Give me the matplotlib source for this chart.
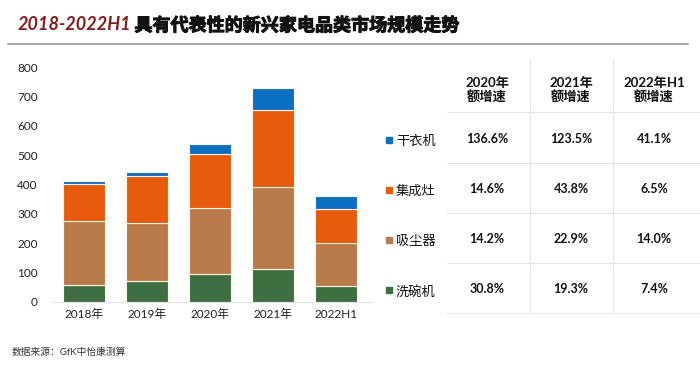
import numpy as np
import matplotlib.pyplot as plt
import matplotlib.patheffects as pe
from matplotlib.lines import Line2D
from matplotlib.patches import Rectangle

plt.rcParams['font.family'] = ['Lato', 'Noto Sans CJK SC', 'DejaVu Sans']

years = ['2018年', '2019年', '2020年', '2021年', '2022H1']
dishwasher = [58, 73, 95, 112, 54]
vacuum = [219, 197, 225, 278, 147]
stove = [126, 160, 184, 264, 116]
dryer = [8, 13, 34, 76, 43]

colors = ['#3e6f40', '#b97b4a', '#e95b0c', '#0b6fc4']

col_heads = ['2020年\n额增速', '2021年\n额增速', '2022年H1\n额增速']
row_names = ['干衣机', '集成灶', '吸尘器', '洗碗机']
row_colors = ['#0b6fc4', '#e95b0c', '#b97b4a', '#3e6f40']
growth = [
    ['136.6%', '123.5%', '41.1%'],
    ['14.6%', '43.8%', '6.5%'],
    ['14.2%', '22.9%', '14.0%'],
    ['30.8%', '19.3%', '7.4%'],
]

W, H = 700, 373
fig = plt.figure(figsize=(7, 3.73), dpi=100)

def fx(px):
    return px / W

def fy(py):
    return 1 - py / H

# stacked bars
ax = fig.add_axes([fx(53), fy(302), fx(372) - fx(53), fy(67) - fy(302)])
x = np.arange(len(years))
bottom = np.zeros(len(years))
for vals, c in zip([dishwasher, vacuum, stove, dryer], colors):
    ax.bar(x, vals, bottom=bottom, width=0.665, color=c, edgecolor='#fbf6e6', linewidth=0.8)
    bottom += np.array(vals)

ax.set_ylim(0, 800)
ax.set_xlim(-0.49, 4.57)
ax.set_yticks(range(0, 801, 100))
ax.set_xticks(x)
ax.set_xticklabels(years)
ax.tick_params(axis='both', length=0, labelsize=8.5, colors='#222222')
ax.tick_params(axis='y', pad=11)
ax.tick_params(axis='x', pad=5)
for s in ['top', 'right', 'left']:
    ax.spines[s].set_visible(False)
ax.spines['bottom'].set_color('#e3e3e3')
ax.spines['bottom'].set_linewidth(0.8)

# title
t1 = fig.text(fx(18), fy(25), '2018-2022H1', color='#8b1a1a', fontsize=13,
              fontweight='bold', style='italic', va='center', ha='left')
ax.annotate('具有代表性的新兴家电品类市场规模走势', xy=(1, 0.5), xycoords=t1,
            xytext=(2, 0), textcoords='offset points', va='center', ha='left',
            fontsize=13, fontweight='bold', color='#111111',
            annotation_clip=False,
            path_effects=[pe.withStroke(linewidth=0.7, foreground='#111111')])
fig.add_artist(Line2D([fx(8), fx(688)], [fy(44), fy(44)], color='#999999', lw=1.2))

# table
line_c = '#e6e6e6'
for py in [112, 163, 213, 263, 313]:
    fig.add_artist(Line2D([fx(447), fx(700)], [fy(py), fy(py)], color=line_c, lw=0.8))
for px in [530, 613]:
    fig.add_artist(Line2D([fx(px), fx(px)], [fy(60), fy(313)], color=line_c, lw=0.8))

col_x = [487, 571, 654]
row_y = [140, 190, 240, 290]
for cx, head in zip(col_x, col_heads):
    fig.text(fx(cx), fy(90), head, ha='center', va='center', fontsize=9.5,
             fontweight='bold', color='#111111', linespacing=1.1)
for ry, name, rc, vals in zip(row_y, row_names, row_colors, growth):
    fig.add_artist(Rectangle((fx(386), fy(ry + 3)), fx(6), fy(0) - fy(6),
                             color=rc, transform=fig.transFigure))
    fig.text(fx(396), fy(ry + 1), name, ha='left', va='center', fontsize=9.5,
             color='#111111')
    for cx, v in zip(col_x, vals):
        fig.text(fx(cx), fy(ry - 1), v, ha='center', va='center', fontsize=9,
                 fontweight='bold', color='#111111')

# source
fig.text(fx(12), fy(352), '数据来源：GfK中怡康测算', ha='left', va='center',
         fontsize=7, color='#333333')

fig.savefig('out.png', dpi=100)
